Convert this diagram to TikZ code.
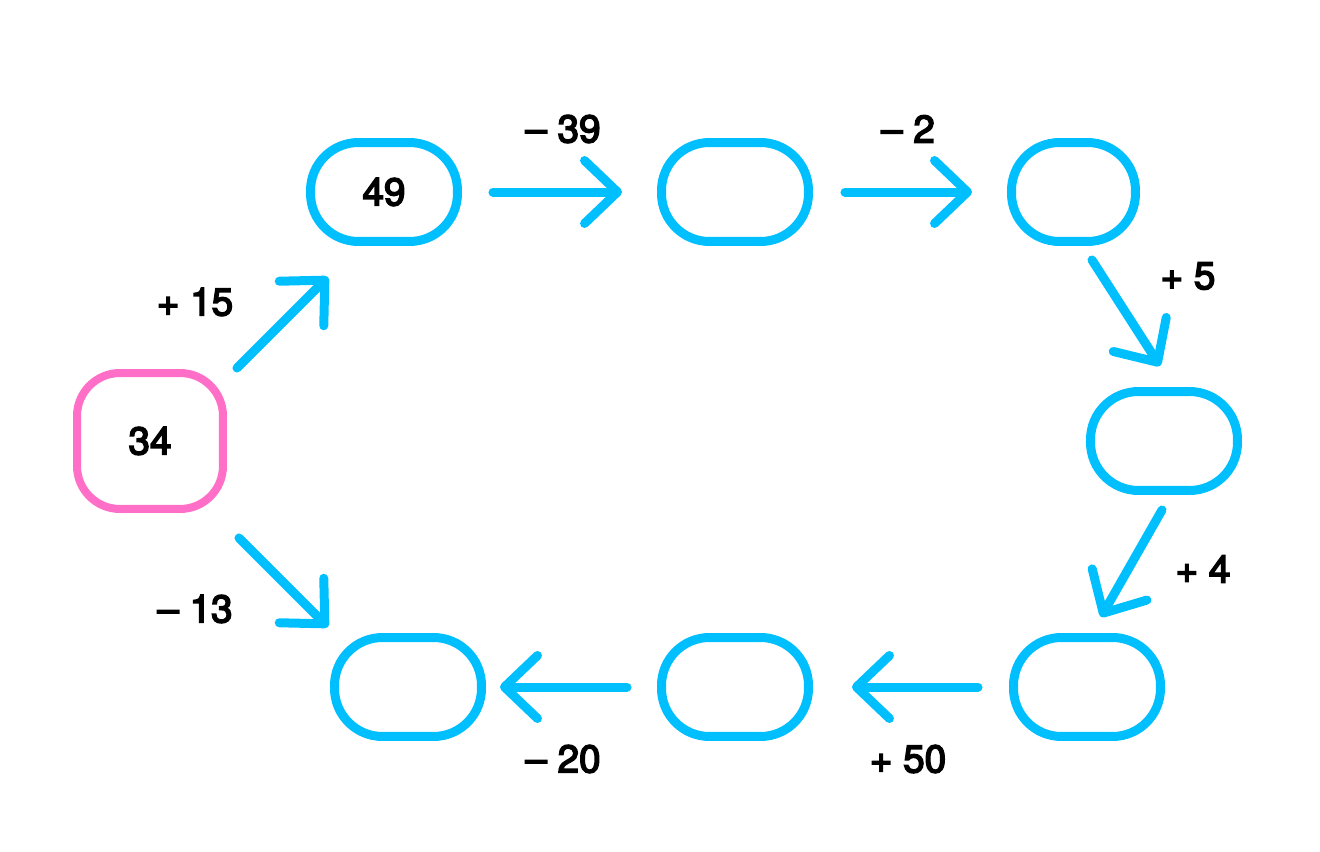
\documentclass[tikz,border=0pt]{standalone}
\usepackage{fontspec}
\setmainfont{TeX Gyre Heros}
\newfontfamily\medfont{TeX Gyre Heros}[FakeBold=4]
\usetikzlibrary{arrows.meta,calc}
\definecolor{skyblue}{RGB}{0,191,255}
\definecolor{hotpink}{RGB}{255,110,199}

\begin{document}
\begin{tikzpicture}[x=0.02cm, y=-0.02cm,
    box/.style={draw=skyblue, line width=0.18cm, rounded corners=0.96cm,
      minimum width=2.94cm, minimum height=1.98cm, inner sep=0pt,
      font=\medfont\fontsize{22}{26}\selectfont},
    pinkbox/.style={box, draw=hotpink, line width=0.16cm, rounded corners=0.86cm,
      minimum width=2.92cm, minimum height=2.72cm},
    arr/.style={draw=skyblue, line width=0.18cm, line cap=round,
      -{Straight Barb[length=0.66cm, width=1.26cm, round]}},
    lbl/.style={inner sep=0pt, font=\medfont\fontsize{22}{26}\selectfont}]
                \useasboundingbox (0,0) rectangle (1320,852);

                % Boxes
                \node[pinkbox] (start) at (150,441) {34};            % Start value
                \node[box] (b1) at (384,192) {49};
                \node[box] (b2) at (735,192) {};
                \node[box, minimum width=2.48cm] (b3) at (1073.5,192) {};
                \node[box] (b4) at (1164,441) {};
                \node[box] (b5) at (1087,687) {};
                \node[box] (b6) at (735,687) {};
                \node[box] (b7) at (408,687) {};

                % Arrows
                \draw[arr] ($(start.north east)+(10,-1)$) -- ($(b1.south west)+(22,31)$);
                \draw[arr] ($(start.south east)+(12,25)$) -- ($(b7.north west)+(-2,-6)$);
                \draw[arr, shorten <=0.62cm, shorten >=0.7cm] (b1) -- (b2);
                \draw[arr, shorten <=0.64cm, shorten >=0.7cm] (b2) -- (b3);
                \draw[arr] ($(b3.south)+(18.5,14)$) -- ($(b4.north)+(-4,-21)$);
                \draw[arr] ($(b4.south)+(-2,15)$) -- ($(b5.north)+(14,-16)$);
                \draw[arr, shorten <=0.62cm, shorten >=0.78cm] (b5) -- (b6);
                \draw[arr, shorten <=0.6cm, shorten >=0.28cm] (b6) -- (b7);

                % Labels
                \node[lbl] (l15) at (195,302) {+ 15};
                \node[lbl] (l39) at (563,129) {– 39};
                \node[lbl] (l2) at (908,129) {– 2};
                \node[lbl] (l5) at (1188,276) {+ 5};
                \node[lbl] (l4) at (1203,569) {+ 4};
                \node[lbl] (l50) at (908,759) {+ 50};
                \node[lbl] (l20) at (563,759) {– 20};
                \node[lbl] (l13) at (195,609) {– 13};
\end{tikzpicture}
\end{document}
